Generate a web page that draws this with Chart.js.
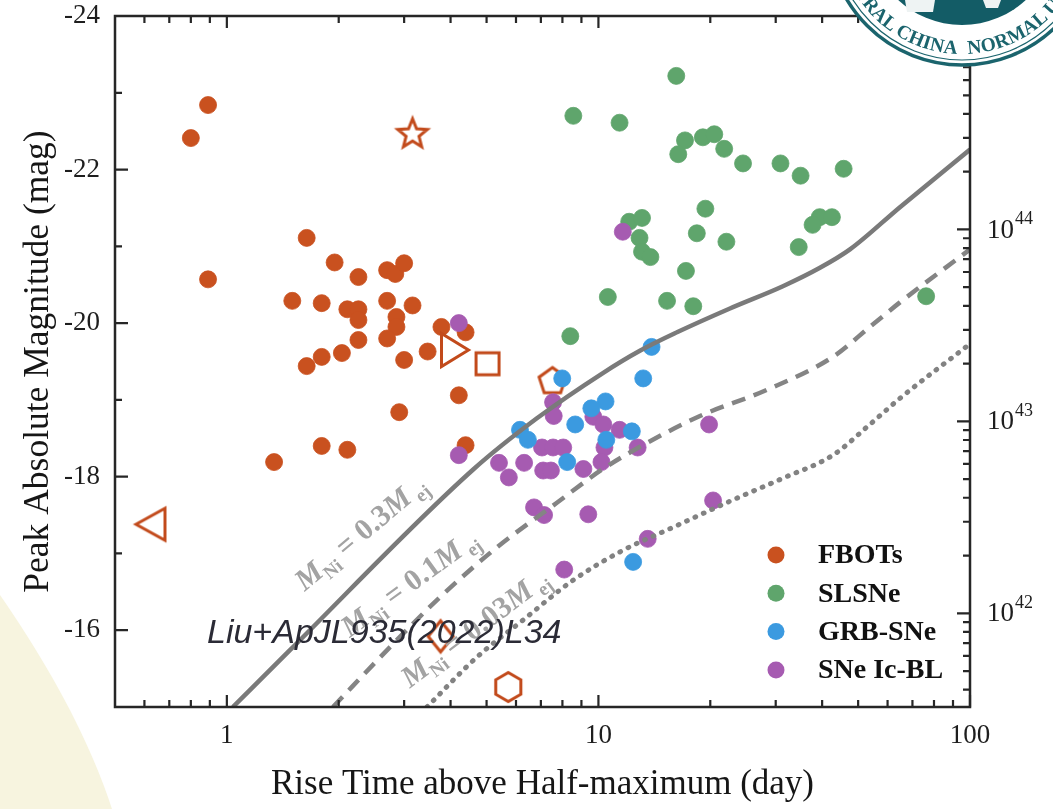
<!DOCTYPE html>
<html>
<head>
<meta charset="utf-8">
<script src="https://cdn.jsdelivr.net/npm/chart.js@4/dist/chart.umd.min.js"></script>
<style>
html,body{margin:0;padding:0;background:#fff;}
#wrap{position:relative;width:1053px;height:809px;overflow:hidden;}
#bg,#logo,#chart{position:absolute;left:0;top:0;}
</style>
</head>
<body>
<div id="wrap">
<svg id="bg" width="1053" height="809"><path d="M0,595 C45,660 88,735 112,809 L0,809 Z" fill="#f7f4df"/></svg>
<canvas id="chart" width="1053" height="809"></canvas>
<svg id="logo" width="1053" height="809">
  <defs>
    <path id="arc" d="M 881.3,-164.2 A 124 124 0 1 0 1042.7,-164.2"/>
  </defs>
  <circle cx="962" cy="-69" r="134" fill="#fff" stroke="#1b646d" stroke-width="3.5"/>
  <circle cx="962" cy="-69" r="129" fill="none" stroke="#1b646d" stroke-width="1.2"/>
  <circle cx="962" cy="-69" r="94" fill="#135c66"/>
  <path d="M905,0 L935,0 L933,12 L907,12 Z" fill="#eef3f3"/>
  <path d="M983,0 L1001,0 L998,8 L986,8 Z" fill="#eef3f3"/>
  <text font-family="Liberation Serif" font-weight="bold" font-size="19.5" fill="#1b646d" letter-spacing="0.2">
    <textPath href="#arc" startOffset="49.2%" text-anchor="end">CENTRAL CHINA</textPath>
  </text>
  <text font-family="Liberation Serif" font-weight="bold" font-size="19.5" fill="#1b646d" letter-spacing="0.2">
    <textPath href="#arc" startOffset="51%" text-anchor="start">NORMAL UNIVERSITY</textPath>
  </text>
</svg>
</div>
<script>
// DATA (rise time in days, peak magnitude)

const fbotT = [0.89, 0.80, 0.89, 1.64, 1.95, 2.26, 2.70, 2.84, 3.00, 1.50, 1.80, 2.11, 2.26, 2.26, 2.70, 3.16, 2.86, 2.86, 2.26, 2.70, 2.04, 1.80, 1.64, 3.00, 3.47, 3.78, 4.39, 4.21, 2.91, 1.80, 2.11, 1.34, 4.39]
const fbotM = [-22.84, -22.41, -20.57, -21.11, -20.79, -20.60, -20.69, -20.64, -20.78, -20.29, -20.26, -20.18, -20.18, -20.04, -20.29, -20.23, -20.08, -19.95, -19.78, -19.80, -19.61, -19.56, -19.44, -19.52, -19.63, -19.95, -19.88, -19.06, -18.84, -18.40, -18.35, -18.19, -18.41]

// FBOTs with their own open markers
const fbotOpenShape = ['star', 'triLeft', 'triRight', 'square', 'pentagon', 'diamond', 'hexagon']
const fbotOpenT = [3.16, 0.623, 4.11, 5.03, 7.52, 3.76, 5.72]
const fbotOpenM = [-22.48, -17.38, -19.65, -19.47, -19.24, -15.92, -15.26]

const slsnT = [16.2, 8.56, 11.4, 17.1, 19.1, 20.5, 16.4, 21.8, 24.5, 30.9, 35.0, 45.7, 19.4, 12.1, 13.1, 12.9, 13.1, 13.8, 18.4, 22.1, 39.4, 42.5, 37.7, 34.6, 17.2, 10.6, 15.3, 18.0, 76.2, 8.40]
const slsnM = [-23.22, -22.70, -22.61, -22.38, -22.42, -22.46, -22.20, -22.27, -22.08, -22.08, -21.92, -22.01, -21.49, -21.32, -21.37, -21.11, -20.93, -20.86, -21.17, -21.06, -21.38, -21.38, -21.28, -20.99, -20.68, -20.34, -20.29, -20.22, -20.35, -19.83]

const grbT = [13.9, 13.2, 7.99, 10.45, 9.57, 8.66, 6.15, 6.46, 12.3, 10.5, 8.24, 12.4]
const grbM = [-19.69, -19.28, -19.28, -18.98, -18.89, -18.68, -18.61, -18.48, -18.59, -18.48, -18.19, -16.89]

const icblT = [4.21, 4.21, 7.55, 7.58, 9.69, 10.31, 11.40, 12.75, 7.05, 7.55, 8.04, 10.38, 5.40, 6.31, 10.19, 5.74, 7.10, 7.45, 9.11, 19.85, 6.71, 7.14, 9.39, 20.35, 8.09, 13.57, 11.63]
const icblM = [-20.00, -18.28, -18.97, -18.79, -18.78, -18.68, -18.61, -18.38, -18.38, -18.38, -18.38, -18.38, -18.18, -18.18, -18.19, -17.99, -18.08, -18.08, -18.10, -18.68, -17.60, -17.50, -17.51, -17.69, -16.79, -17.19, -21.19]

// model curves M_Ni = 0.3, 0.1, 0.03 M_ej
const curveNames = ['0.3', '0.1', '0.03']
const c03T = [1.038, 1.478, 4.595, 6.83, 10.28, 12.93, 16.27, 22.59, 31.37, 39.46, 47.53, 64.78, 100]
const c03M = [-15.0, -15.74, -18.09, -18.76, -19.35, -19.64, -19.88, -20.19, -20.48, -20.72, -20.96, -21.51, -22.26]
const c01T = [1.93, 2.748, 3.746, 5.333, 7.73, 10.28, 13.17, 18.76, 28.4, 42.76, 53.76, 64.78, 100]
const c01M = [-15.0, -15.78, -16.43, -17.08, -17.66, -18.10, -18.41, -18.79, -19.13, -19.56, -19.95, -20.27, -20.96]
const c003T = [3.455, 4.71, 6.26, 8.54, 11.64, 15.87, 22.59, 31.37, 42.76, 53.76, 64.78, 100]
const c003M = [-15.0, -15.65, -16.13, -16.65, -17.04, -17.34, -17.68, -17.98, -18.28, -18.68, -19.02, -19.73]

const legendNames = ['FBOTs', 'SLSNe', 'GRB-SNe', 'SNe Ic-BL']

// TICKS
const xTickLabels = [1, 10, 100]
const xMinorTicks = [0.6, 0.7, 0.8, 0.9, 2, 3, 4, 5, 6, 7, 8, 9, 20, 30, 40, 50, 60, 70, 80, 90]
const yTickLabels = [-24, -22, -20, -18, -16]
const yMinorTicks = [-23, -21, -19, -17]
const lumTickExp = [42, 43, 44]
const magAt1e44 = -21.22

const xRange = [0.5, 100]
const yRange = [-24, -15]

// STYLE
const fbotColor = '#c9511f'
const slsnColor = '#5fa56c'
const grbColor = '#3b9ae0'
const icblColor = '#a65bb1'
const lineColor = '#7a7a7a'
const axisColor = '#262626'
const serif = '"Liberation Serif", "Times New Roman", serif'

function pts(xs, ys){
  return xs.map((x, i) => ({x: x, y: ys[i]}))
}

function lum(m){
  return 1e44 * Math.pow(10, (magAt1e44 - m) / 2.5)
}

function shape(kind){
  const s = 40
  const c = document.createElement('canvas')
  c.width = s
  c.height = s
  const g = c.getContext('2d')
  g.translate(s / 2, s / 2)
  g.strokeStyle = '#c24a1b'
  g.lineWidth = 3
  g.lineJoin = 'miter'
  let p = []
  if (kind === 'star') {
    for (let i = 0; i < 10; i++) {
      const r = i % 2 ? 6.8 : 15.5
      const a = -Math.PI / 2 + i * Math.PI / 5
      p.push([r * Math.cos(a), r * Math.sin(a) + 1.5])
    }
  } else if (kind === 'triLeft') {
    p = [[-14.5, 0], [14.5, -16], [14.5, 16]]
  } else if (kind === 'triRight') {
    p = [[13.5, 0], [-13.5, -16.5], [-13.5, 16.5]]
  } else if (kind === 'square') {
    p = [[-11.5, -11], [11.5, -11], [11.5, 11], [-11.5, 11]]
  } else if (kind === 'diamond') {
    p = [[0, -15.5], [12.5, 0], [0, 15.5], [-12.5, 0]]
  } else {
    const n = kind === 'pentagon' ? 5 : 6
    const r = kind === 'pentagon' ? 14 : 14.5
    for (let i = 0; i < n; i++) {
      const a = -Math.PI / 2 + i * 2 * Math.PI / n
      p.push([r * Math.cos(a), r * Math.sin(a)])
    }
  }
  g.beginPath()
  p.forEach((q, i) => i ? g.lineTo(q[0], q[1]) : g.moveTo(q[0], q[1]))
  g.closePath()
  g.stroke()
  return c
}

function curveLabel(g, x, y, deg, value){
  g.save()
  g.translate(x, y)
  g.rotate(deg * Math.PI / 180)
  g.fillStyle = '#a3a3a3'
  g.textBaseline = 'alphabetic'
  g.textAlign = 'left'
  const parts = [
    ['bold italic 30px ' + serif, 'M', 0],
    ['bold 19px ' + serif, 'Ni', 7],
    ['bold 30px ' + serif, ' = ' + value, 0],
    ['bold italic 30px ' + serif, 'M', 0],
    ['bold 19px ' + serif, ' ej', 7]
  ]
  let cx = 0
  parts.forEach(p => {
    g.font = p[0]
    g.fillText(p[1], cx, p[2])
    cx += g.measureText(p[1]).width
  })
  g.restore()
}

// label anchors on the curves (data units) and their tilt
const curveLabelPos = [
  {t: 1.62, m: -16.50, deg: -40},
  {t: 2.14, m: -15.90, deg: -36},
  {t: 3.11, m: -15.24, deg: -37}
]

const framePlugin = {
  id: 'frame',
  afterDatasetsDraw(chart){
    const g = chart.ctx
    const a = chart.chartArea
    const sx = chart.scales.x
    const sy = chart.scales.y
    const sl = chart.scales.yL

    // curve labels
    curveNames.forEach((v, i) => {
      const p = curveLabelPos[i]
      curveLabel(g, sx.getPixelForValue(p.t), sy.getPixelForValue(p.m), p.deg, v)
    })

    g.save()
    g.strokeStyle = axisColor
    g.lineWidth = 2.5
    g.strokeRect(a.left, a.top, a.right - a.left, a.bottom - a.top)

    g.lineWidth = 2.2
    g.beginPath()
    const xt = xTickLabels.map(v => [v, 12]).concat(xMinorTicks.map(v => [v, 7]))
    xt.forEach(t => {
      const px = sx.getPixelForValue(t[0])
      g.moveTo(px, a.bottom); g.lineTo(px, a.bottom - t[1])
      g.moveTo(px, a.top); g.lineTo(px, a.top + t[1])
    })
    const yt = yTickLabels.map(v => [v, 13]).concat(yMinorTicks.map(v => [v, 7]))
    yt.forEach(t => {
      const py = sy.getPixelForValue(t[0])
      g.moveTo(a.left, py); g.lineTo(a.left + t[1], py)
    })
    for (let e = 41; e <= 45; e++) {
      for (let k = 1; k <= 9; k++) {
        const v = k * Math.pow(10, e)
        if (v < sl.min || v > sl.max) continue
        const py = sl.getPixelForValue(v)
        const len = k === 1 ? 13 : 7
        g.moveTo(a.right, py); g.lineTo(a.right - len, py)
      }
    }
    g.stroke()

    // right axis labels
    g.fillStyle = '#1e1e1e'
    g.textBaseline = 'middle'
    g.textAlign = 'left'
    lumTickExp.forEach(e => {
      const py = sl.getPixelForValue(Math.pow(10, e))
      g.font = '27px ' + serif
      g.fillText('10', a.right + 17, py + 1)
      const w = g.measureText('10').width
      g.font = '18px ' + serif
      g.fillText(String(e), a.right + 17 + w + 1, py - 10)
    })

    // legend
    const colors = [fbotColor, slsnColor, grbColor, icblColor]
    legendNames.forEach((n, i) => {
      const ly = 555 + i * 38.3
      g.beginPath()
      g.arc(776, ly, 8.5, 0, Math.PI * 2)
      g.fillStyle = colors[i]
      g.fill()
      g.fillStyle = '#111'
      g.font = 'bold 28px ' + serif
      g.fillText(n, 818, ly + 1)
    })

    // watermark
    g.font = 'italic 34px "Liberation Sans", Arial, sans-serif'
    g.fillStyle = '#2b2b36'
    g.textBaseline = 'alphabetic'
    g.fillText('Liu+ApJL935(2022)L34', 207, 643)
    g.restore()
  }
}

const ctx = document.getElementById('chart')

const circle = (color) => ({
  pointStyle: 'circle',
  pointRadius: 8.5,
  backgroundColor: color,
  borderColor: color,
  borderWidth: 0.8
})

const chart = new Chart(ctx, {
  type: 'scatter',
  data: {
    datasets: [
      {label: 'c03', data: pts(c03T, c03M), showLine: true, pointRadius: 0, borderColor: lineColor, borderWidth: 4.5, cubicInterpolationMode: 'monotone', order: 0},
      {label: 'c01', data: pts(c01T, c01M), showLine: true, pointRadius: 0, borderColor: '#848484', borderWidth: 4.5, borderDash: [14, 9], cubicInterpolationMode: 'monotone', order: 0},
      {label: 'c003', data: pts(c003T, c003M), showLine: true, pointRadius: 0, borderColor: '#828282', borderWidth: 5, borderDash: [0.8, 8.4], borderCapStyle: 'round', cubicInterpolationMode: 'monotone', order: 0},
      Object.assign({label: 'GRB-SNe', data: pts(grbT, grbM), order: 1}, circle(grbColor)),
      Object.assign({label: 'SNe Ic-BL', data: pts(icblT, icblM), order: 2}, circle(icblColor)),
      {label: 'FBOTs open', data: pts(fbotOpenT, fbotOpenM), pointStyle: fbotOpenShape.map(shape), pointRadius: 10, order: 3},
      Object.assign({label: 'FBOTs', data: pts(fbotT, fbotM), order: 4}, circle(fbotColor)),
      Object.assign({label: 'SLSNe', data: pts(slsnT, slsnM), order: 5}, circle(slsnColor))
    ]
  },
  options: {
    responsive: false,
    animation: false,
    devicePixelRatio: 1,
    events: [],
    layout: {padding: {top: 16, left: 0, right: 0, bottom: 0}},
    plugins: {legend: {display: false}, tooltip: {enabled: false}},
    scales: {
      x: {
        type: 'logarithmic',
        position: 'bottom',
        min: xRange[0],
        max: xRange[1],
        grid: {display: false, drawTicks: false},
        border: {display: false},
        afterBuildTicks: s => { s.ticks = xTickLabels.map(v => ({value: v})) },
        afterFit: s => { s.height = 102; s.paddingLeft = 0; s.paddingRight = 0 },
        ticks: {
          autoSkip: false, maxRotation: 0, padding: 13, color: '#1e1e1e',
          font: {family: serif, size: 27},
          callback: v => String(v)
        },
        title: {display: true, text: 'Rise Time above Half-maximum (day)', color: '#161616', font: {family: serif, size: 35}, padding: {top: 0, bottom: 3}}
      },
      y: {
        type: 'linear',
        position: 'left',
        reverse: true,
        min: yRange[0],
        max: yRange[1],
        grid: {display: false, drawTicks: false},
        border: {display: false},
        afterBuildTicks: s => { s.ticks = yTickLabels.map(v => ({value: v})) },
        afterFit: s => { s.width = 115; s.paddingTop = 0; s.paddingBottom = 0 },
        ticks: {padding: 15, color: '#1e1e1e', font: {family: serif, size: 27}, callback: v => String(v)},
        title: {display: true, text: 'Peak Absolute Magnitude (mag)', color: '#161616', font: {family: serif, size: 35.5}, padding: {top: 17, bottom: 0}}
      },
      yL: {
        type: 'logarithmic',
        position: 'right',
        min: lum(yRange[1]),
        max: lum(yRange[0]),
        grid: {display: false, drawTicks: false},
        border: {display: false},
        ticks: {display: false},
        afterFit: s => { s.width = 83; s.paddingTop = 0; s.paddingBottom = 0 }
      }
    }
  },
  plugins: [framePlugin]
})
</script>
</body>
</html>
